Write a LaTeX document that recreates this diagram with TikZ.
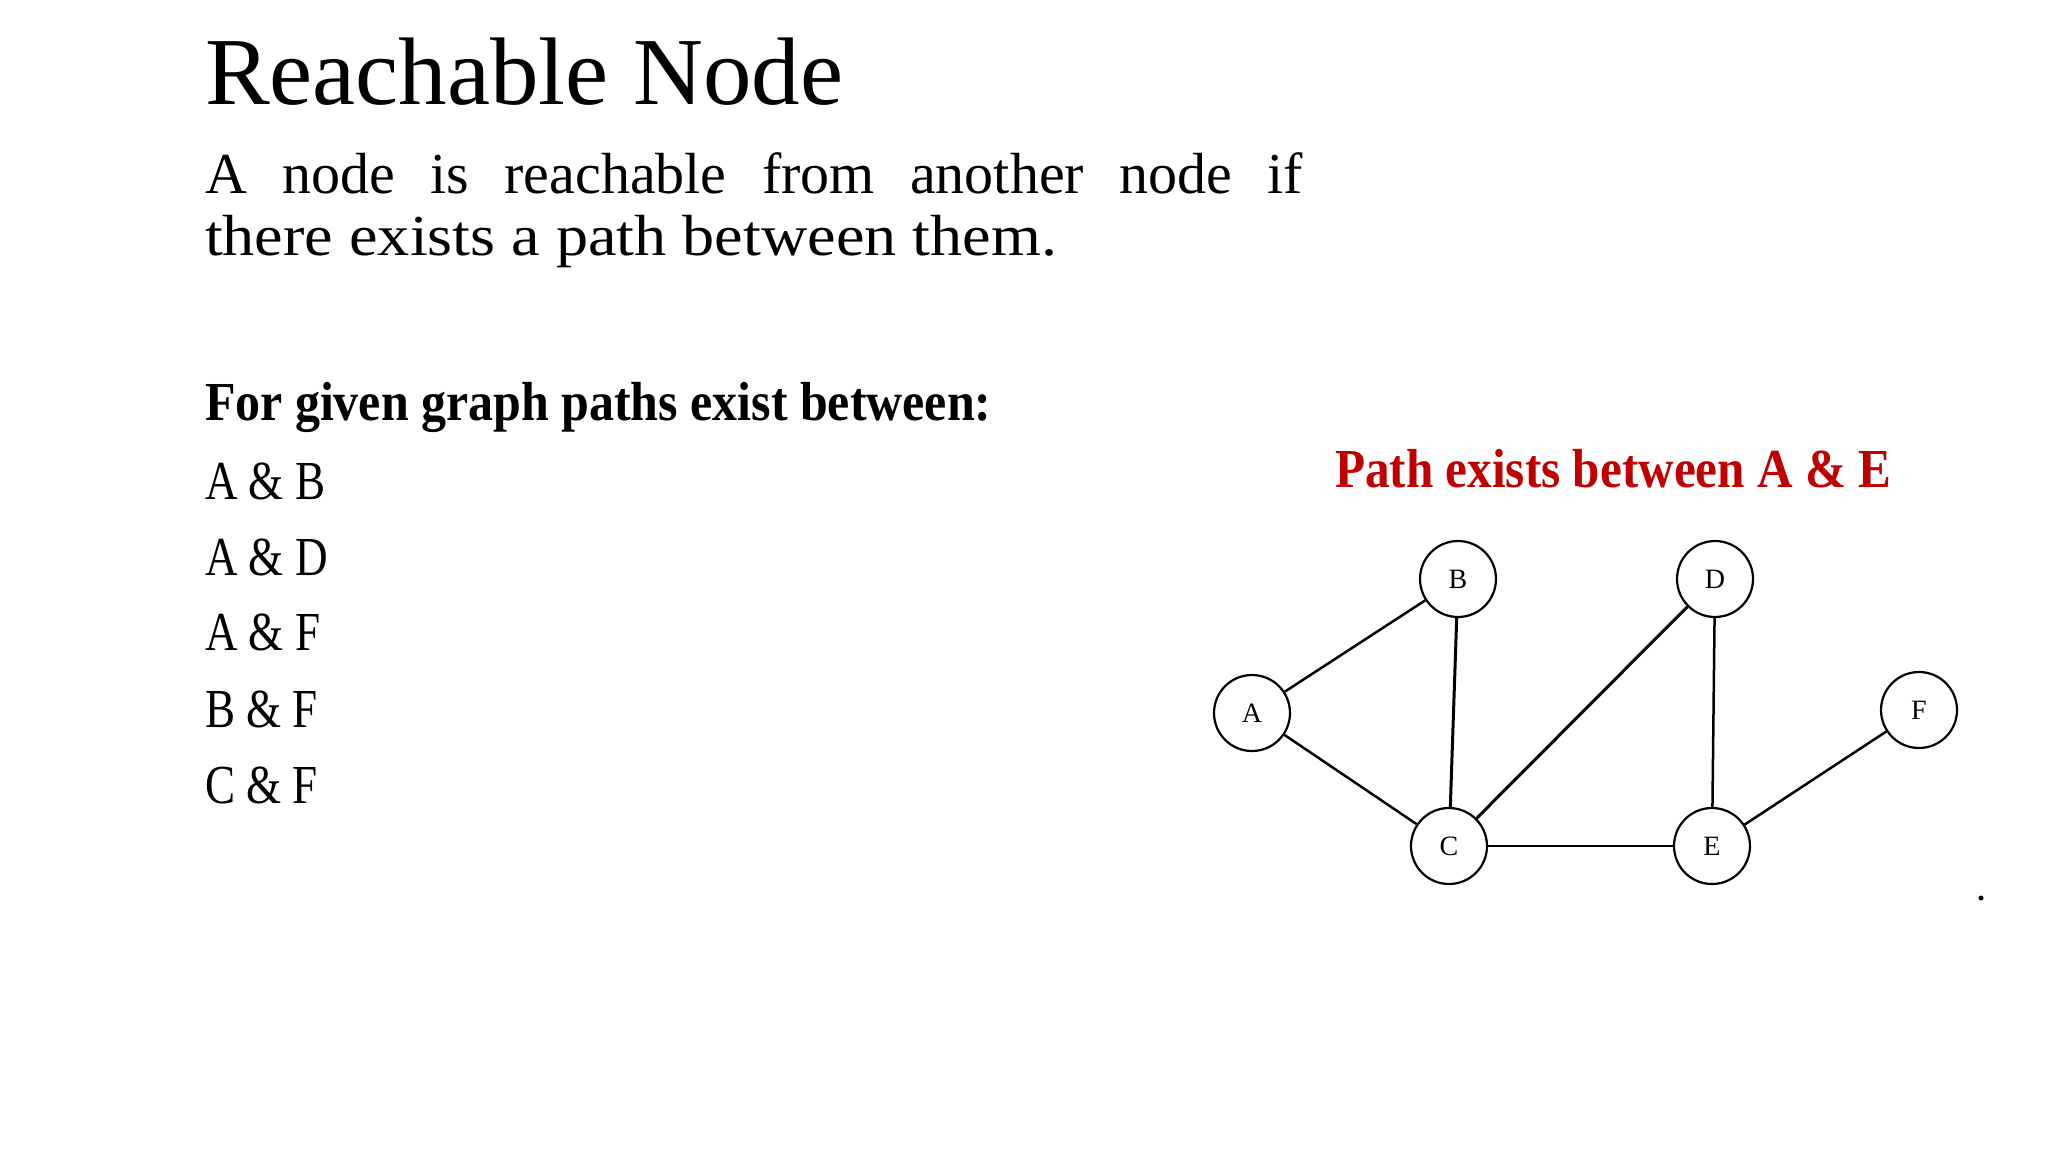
\documentclass[tikz,border=0pt]{standalone}
\usepackage{fontspec}
\usepackage{graphicx}
\setmainfont{Liberation Serif}
\begin{document}
\begin{tikzpicture}[x=1pt,y=-1pt,
  txt/.style={anchor=base west, inner sep=0pt, outer sep=0pt},
  gnode/.style={circle, draw=black, line width=2.2pt, minimum size=76pt, inner sep=0pt, font=\fontsize{28}{30}\selectfont},
  edge/.style={draw=black, line width=2.5pt}]
\fill[white] (0,0) rectangle (2048,1152);
\useasboundingbox (0,0) rectangle (2048,1152);
\definecolor{pathred}{RGB}{192,0,0}
\node[txt] (title) at (205,104) {\fontsize{96}{110}\selectfont\scalebox{1.01}[1]{Reachable Node}};
\node[txt] (l1) at (205,193) {\fontsize{58}{66}\selectfont\makebox[1098pt][s]{A node is reachable from another node if}};
\node[txt] (l2) at (205,255) {\fontsize{58}{66}\selectfont\scalebox{1.107}[1]{there exists a path between them.}};
\node[txt] (hdr) at (205,420) {\fontsize{55}{62}\selectfont\bfseries\scalebox{0.908}[1]{For given graph paths exist between:}};
\node[txt] (i1) at (205,499) {\fontsize{55}{62}\selectfont\scalebox{0.82}[1]{A \& B}};
\node[txt] (i2) at (205,575) {\fontsize{55}{62}\selectfont\scalebox{0.82}[1]{A \& D}};
\node[txt] (i3) at (205,650) {\fontsize{55}{62}\selectfont\scalebox{0.82}[1]{A \& F}};
\node[txt] (i4) at (205,727) {\fontsize{55}{62}\selectfont\scalebox{0.82}[1]{B \& F}};
\node[txt] (i5) at (205,803) {\fontsize{55}{62}\selectfont\scalebox{0.82}[1]{C \& F}};
\node[txt, text=pathred] (red) at (1335,487) {\fontsize{55}{62}\selectfont\bfseries\scalebox{0.895}[1]{Path exists between A \& E}};
\node[gnode] (B) at (1458,579) {B};
\node[gnode] (D) at (1715,579) {D};
\node[gnode] (A) at (1252,713) {A};
\node[gnode] (F) at (1919,710) {F};
\node[gnode] (C) at (1449,846) {C};
\node[gnode] (E) at (1712,846) {E};
\draw[edge] (A) -- (B);
\draw[edge] (A) -- (C);
\draw[edge, line width=3pt] (B) -- (C);
\draw[edge, line width=3pt] (C) -- (D);
\draw[edge] (D) -- (E);
\draw[edge, line width=2.8pt] (C) -- (E);
\draw[edge] (E) -- (F);
\fill[black] (1981,898) circle (2.5pt);
\end{tikzpicture}
\end{document}
